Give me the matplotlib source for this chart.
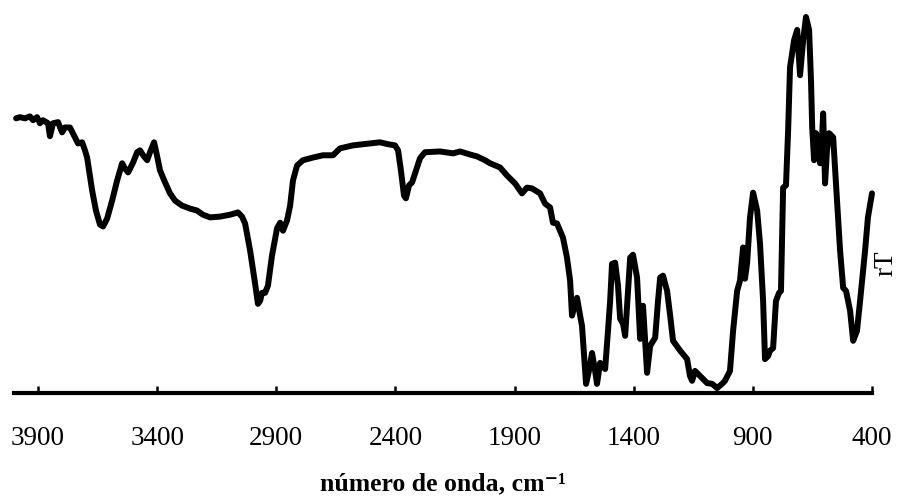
import matplotlib.pyplot as plt

# FTIR spectrum: wavenumber (cm-1) vs transmittance (arbitrary units)
wavenumber = [
    3992, 3976, 3955, 3934, 3921, 3904, 3892, 3879, 3858, 3850, 3837, 3816,
    3799, 3787, 3766, 3745, 3732, 3715, 3703, 3694, 3673, 3657, 3640, 3627,
    3610, 3589, 3568, 3556, 3547, 3535, 3522, 3501, 3484, 3472, 3459, 3442,
    3430, 3413, 3401, 3388, 3367, 3346, 3325, 3296, 3262, 3233, 3208, 3178,
    3136, 3094, 3061, 3044, 3031, 3010, 2989, 2977, 2968, 2960, 2947, 2935,
    2918, 2897, 2884, 2872, 2855, 2842, 2830, 2813, 2788, 2746, 2704, 2662,
    2633, 2578, 2507, 2465, 2431, 2402, 2389, 2377, 2364, 2356, 2343, 2330,
    2314, 2297, 2276, 2213, 2158, 2129, 2087, 2058, 2024, 2003, 1961, 1932,
    1898, 1869, 1848, 1827, 1793, 1772, 1751, 1739, 1722, 1697, 1680, 1667,
    1659, 1646, 1638, 1625, 1617, 1600, 1588, 1575, 1562, 1554, 1541, 1520,
    1508, 1499, 1491, 1478, 1466, 1457, 1445, 1436, 1424, 1415, 1403, 1386,
    1373, 1361, 1344, 1331, 1310, 1298, 1289, 1277, 1260, 1247, 1235, 1205,
    1176, 1164, 1155, 1143, 1122, 1092, 1071, 1050, 1029, 1017, 996, 983,
    966, 954, 941, 933, 924, 912, 899, 882, 870, 857, 849, 836,
    828, 815, 803, 790, 782, 773, 761, 752, 744, 727, 714, 702,
    689, 677, 664, 656, 651, 643, 635, 626, 618, 610, 605, 597,
    589, 580, 563, 547, 534, 521, 509, 492, 479, 463, 450, 429,
    417, 400,
]
transmittance = [
    72.1, 72.4, 72.1, 72.6, 71.6, 72.4, 70.8, 71.6, 70.8, 67.4, 70.8, 71.1,
    68.4, 69.7, 69.7, 67.1, 65.5, 65.8, 63.7, 61.8, 53.2, 47.9, 44.2, 43.7,
    45.8, 50.5, 55.8, 58.4, 60.3, 58.9, 57.9, 60.5, 63.2, 63.7, 62.4, 61.1,
    63.2, 65.8, 62.4, 58.4, 55.3, 52.4, 50.5, 49.2, 48.4, 47.9, 46.8, 46.1,
    46.3, 46.8, 47.4, 46.3, 44.5, 37.4, 28.7, 23.4, 24.2, 26.3, 26.3, 28.2,
    36.1, 43.2, 44.7, 42.6, 45.3, 49.2, 55.8, 59.7, 61.1, 61.8, 62.4, 62.4,
    64.2, 65.0, 65.5, 65.8, 65.3, 65.0, 63.7, 58.4, 51.8, 51.1, 54.5, 55.3,
    58.4, 61.6, 63.2, 63.4, 62.9, 63.4, 62.6, 62.1, 61.1, 60.3, 59.2, 57.1,
    55.0, 52.4, 53.9, 53.7, 52.4, 49.7, 48.7, 44.7, 44.5, 40.8, 35.5, 29.5,
    20.3, 23.4, 25.0, 20.3, 17.6, 2.4, 5.8, 10.5, 5.8, 2.4, 7.9, 6.3,
    16.3, 24.2, 33.9, 34.2, 28.2, 19.5, 18.2, 15.0, 26.8, 35.5, 36.3, 30.3,
    14.2, 22.9, 5.3, 12.4, 14.5, 24.2, 30.3, 30.8, 26.8, 20.3, 13.7, 11.1,
    8.9, 4.5, 3.2, 5.8, 4.5, 2.6, 2.4, 1.3, 2.4, 3.2, 5.8, 16.3,
    26.8, 29.5, 38.2, 30.0, 34.2, 46.1, 52.6, 47.9, 39.2, 24.2, 8.9, 9.7,
    11.1, 11.8, 24.2, 26.3, 26.8, 53.9, 54.5, 68.9, 85.5, 92.6, 95.3, 83.4,
    92.6, 98.7, 95.3, 82.1, 69.7, 61.1, 68.2, 66.3, 60.3, 66.3, 73.4, 55.0,
    63.7, 68.2, 67.1, 50.5, 37.4, 27.6, 26.8, 21.6, 13.7, 16.3, 24.2, 37.4,
    46.1, 52.4,
]
tick_values = [3900, 3400, 2900, 2400, 1900, 1400, 900, 400]

plt.rcParams["font.family"] = ["Liberation Serif", "DejaVu Serif"]

fig = plt.figure(figsize=(9, 4.97), dpi=100)
ax = fig.add_axes([14.2 / 900, 104 / 497, 857.8 / 900, 388.6 / 497])

ax.plot(wavenumber, transmittance, color="black", lw=4.3,
        solid_joinstyle="round", solid_capstyle="round", clip_on=False)

ax.set_xlim(4000, 400)
ax.set_ylim(0, 102)
ax.set_xticks(tick_values)
ax.set_xticklabels([str(v) for v in tick_values], fontsize=19.5)
ax.tick_params(axis="x", direction="in", length=5, width=1.8, pad=24)
ax.set_yticks([])

for side in ["left", "top", "right"]:
    ax.spines[side].set_visible(False)
ax.spines["bottom"].set_linewidth(3)

ax.set_xlabel("número de onda, cm\u207b\u00b9", fontsize=18.5,
              fontweight="bold", labelpad=15)

fig.text(886 / 900, 1 - 263 / 497, "rT", rotation=90, fontsize=19.5,
         ha="center", va="center")

plt.savefig("out.png", dpi=100)
